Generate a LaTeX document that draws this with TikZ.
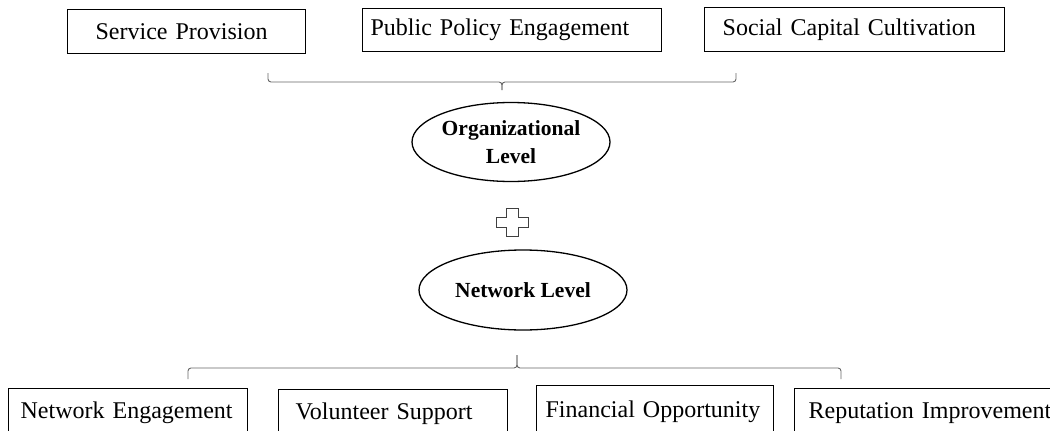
\documentclass[tikz,border=0pt]{standalone}
\usepackage{fontspec}
\setmainfont{Liberation Serif}
\usetikzlibrary{shapes.geometric, positioning}

\begin{document}
\begin{tikzpicture}[x=1pt, y=-1pt]
    \tikzstyle{func} = [rectangle, draw, line width=1.3pt, anchor=north west, align=left,
                        inner ysep=0pt, font=\fontsize{24}{28}\selectfont]
    \tikzstyle{lvl} = [ellipse, draw, line width=1.3pt, inner sep=0pt, align=center,
                       font=\fontsize{21.5}{28}\selectfont\bfseries]
    \tikzstyle{grp} = [draw=black!60, line width=0.9pt, rounded corners=3pt]

    \useasboundingbox (0,0) rectangle (1050,431);
    \clip (0,0) rectangle (1050,431);

    % organisational functions
    \node (serv) [func, minimum height=44pt, text width=182pt, inner xsep=28pt] at (67,9)  {Service Provision};
    \node (pol)  [func, minimum height=43pt, text width=283pt, inner xsep=8pt]  at (362,8) {Public Policy Engagement};
    \node (soc)  [func, minimum height=44pt, text width=264pt, inner xsep=18pt] at (704,7) {Social Capital Cultivation};

    % the two levels
    \node (org) [lvl, minimum width=198pt, minimum height=79pt] at (511,142) {Organizational\\Level};
    \coordinate (plus) at (512,222);
    \node (net) [lvl, minimum width=208pt, minimum height=80pt] at (523,290) {Network Level};

    % network functions
    \node (neng) [func, minimum height=48pt, text width=215pt, inner xsep=12pt] at (8,388)   {Network Engagement};
    \node (vol)  [func, minimum height=48pt, text width=195pt, inner xsep=17pt] at (278,389) {Volunteer Support};
    \node (fin)  [func, minimum height=52pt, text width=219pt, inner xsep=9pt]  at (536,385) {Financial Opportunity};
    \node (rep)  [func, minimum height=48pt, text width=262pt, inner xsep=14pt] at (794,388) {Reputation Improvement};

    % braces
    \coordinate (tl) at (268,73);
    \coordinate (tr) at (736,73);
    \coordinate (tm) at (502,90);
    \coordinate (bl) at (188,379);
    \coordinate (br) at (841,379);
    \coordinate (bm) at (517,355);
    \draw [grp] (tl) |- (502,82) -- (tm);
    \draw [grp] (tr) |- (502,82) -- (tm);
    \draw [grp] (bl) |- (517,368) -- (bm);
    \draw [grp] (br) |- (517,368) -- (bm);

    % plus sign
    \draw [shift={(plus)}, line width=0.8pt, black!75]
        (-6,-14) -- (6,-14) -- (6,-5) -- (16,-5) -- (16,5) -- (6,5) -- (6,14)
        -- (-6,14) -- (-6,5) -- (-16,5) -- (-16,-5) -- (-6,-5) -- cycle;
\end{tikzpicture}
\end{document}
